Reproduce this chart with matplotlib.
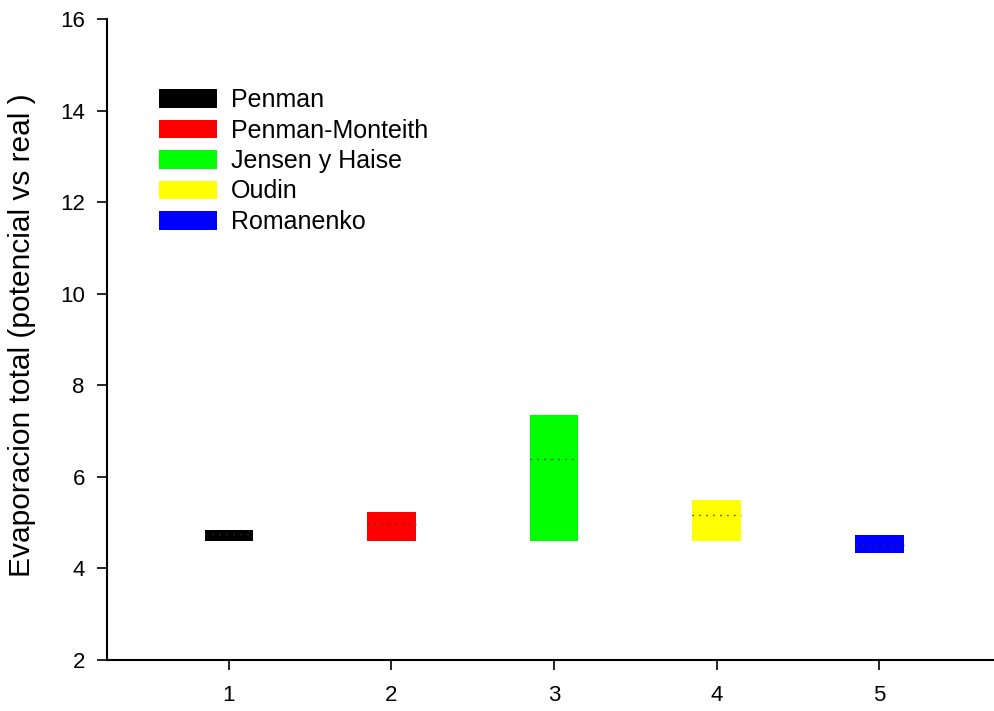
import matplotlib
matplotlib.use('Agg')
import matplotlib.pyplot as plt
from matplotlib.patches import Patch

plt.rcParams['font.family'] = ['Liberation Sans', 'DejaVu Sans']

# box data per method (lower quartile, upper quartile, median)
methods = ['Penman', 'Penman-Monteith', 'Jensen y Haise', 'Oudin', 'Romanenko']
positions = [1, 2, 3, 4, 5]
q1 = [4.60, 4.60, 4.60, 4.60, 4.33]
q3 = [4.84, 5.23, 7.35, 5.49, 4.73]
medians = [4.75, 4.98, 6.38, 5.17, 4.52]
colors = ['#000000', '#ff0000', '#00ff00', '#ffff00', '#0000ff']

fig = plt.figure(figsize=(9.95, 7.11), dpi=100)
ax = fig.add_axes([107/995, 51/711, 886/995, 641/711])

width = 0.3
heights = [b - a for a, b in zip(q1, q3)]
ax.bar(positions, heights, bottom=q1, width=width, color=colors, linewidth=0)
for x, m in zip(positions, medians):
    ax.hlines(m, x - width/2, x + width/2, colors='#333333', linestyles=(0, (1, 4)), linewidth=1)

ax.set_xlim(0.25, 5.7)
ax.set_ylim(2, 16)
ax.set_xticks(positions)
ax.set_yticks(range(2, 17, 2))
ax.tick_params(direction='out', length=7, width=1.2, labelsize=16, pad=9)
ax.tick_params(axis='x', pad=11)
for s in ['top', 'right']:
    ax.spines[s].set_visible(False)
for s in ['left', 'bottom']:
    ax.spines[s].set_linewidth(1.5)

ax.set_ylabel('Evaporacion total (potencial vs real )', fontsize=21.5)
ax.yaxis.set_label_coords((22 - 107) / 886, (711 - 335 - 51) / 641)
ax.yaxis.label.set_va('center')

handles = [Patch(facecolor=c, edgecolor='none') for c in colors]
ax.legend(handles, methods, loc='upper left', bbox_to_anchor=(159/995, 1 - 88/711),
          bbox_transform=fig.transFigure, frameon=False, fontsize=18,
          handlelength=2.32, handleheight=0.76, labelspacing=0.26, handletextpad=0.56,
          borderpad=0, borderaxespad=0)

fig.savefig('out.png', dpi=100)
